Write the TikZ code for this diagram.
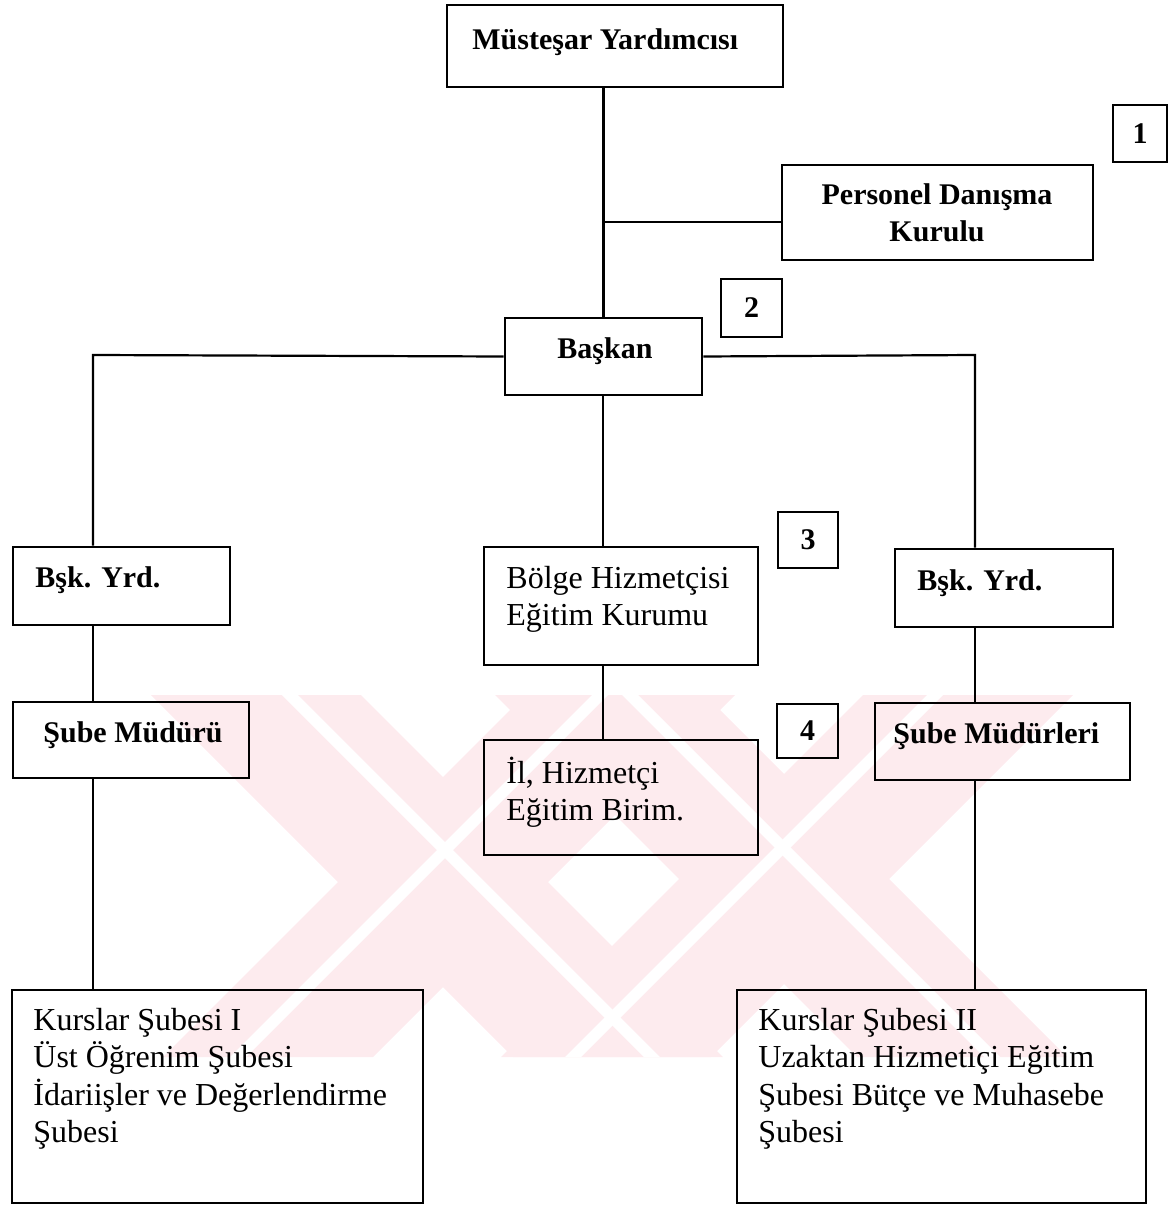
\documentclass[tikz,border=0pt]{standalone}
\usepackage{fontspec}
\setmainfont{Liberation Serif}
\usetikzlibrary{fit}
\definecolor{wm}{RGB}{253,235,238}
\tikzset{
  box/.style={draw, line width=1.4pt, inner sep=0pt},
  conn/.style={line width=1.1pt},
  bl/.style={font=\fontsize{15}{18.75}\selectfont\bfseries, inner sep=0pt, align=left},
  rl/.style={font=\fontsize{16}{18.75}\selectfont, inner sep=0pt, align=left},
}
\newcommand{\wmband}[2]{%
  \fill[wm] ({#1-105},695) -- ({#1+105},695) -- ({#1+105+#2*362},1057) -- ({#1-105+#2*362},1057) -- cycle;}
\newcommand{\wmgap}[2]{%
  \fill[white] ({#1-8},695) -- ({#1+8},695) -- ({#1+8+#2*362},1057) -- ({#1-8+#2*362},1057) -- cycle;}
\begin{document}
\begin{tikzpicture}[x=0.5pt,y=-0.5pt]
\useasboundingbox (0,0) rectangle (1170,1208);
% watermark
\begin{scope}
  \clip (0,695) rectangle (1170,1057);
  \wmband{256}{1}\wmband{630}{-1}\wmband{600}{1}\wmband{968}{-1}
  \wmgap{290}{1}\wmgap{600}{-1}\wmgap{630}{1}\wmgap{935}{-1}
\end{scope}
% boxes
\node[box, fit={(447,5) (783,87)}] (top) {};
\node[box, fit={(782,165) (1093,260)}] (pdk) {};
\node[box, fit={(1113,105) (1167,162)}] (n1) {};
\node[box, fit={(505,318) (702,395)}] (bas) {};
\node[box, fit={(721,279) (782,337)}] (n2) {};
\node[box, fit={(13,547) (230,625)}] (lb) {};
\node[box, fit={(484,547) (758,665)}] (bol) {};
\node[box, fit={(778,512) (838,568)}] (n3) {};
\node[box, fit={(895,549) (1113,627)}] (rb) {};
\node[box, fit={(13,702) (249,778)}] (sm) {};
\node[box, fit={(484,740) (758,855)}] (il) {};
\node[box, fit={(777,704) (838,758)}] (n4) {};
\node[box, fit={(875,703) (1130,780)}] (smr) {};
\node[box, fit={(12,990) (423,1203)}] (k1) {};
\node[box, fit={(737,990) (1146,1203)}] (k2) {};
% texts
\node[bl, anchor=base west] (tTop) at (472,50) {Müsteşar Yardımcısı};
\node[bl, align=center] (tPdk) at (937,213) {Personel Danışma\\Kurulu};
\node[bl, anchor=base] (tBas) at (605,358) {Başkan};
\node[bl, anchor=base west] (tLb) at (35,587) {Bşk. Yrd.};
\node[bl, anchor=base west] (tRb) at (917,590) {Bşk. Yrd.};
\node[bl, anchor=base west] (tSm) at (43,742) {Şube Müdürü};
\node[bl, anchor=base west] (tSmr) at (893,743) {Şube Müdürleri};
\node[rl, anchor=base west] (tBol) at (506,625.5) {Bölge Hizmetçisi\\Eğitim Kurumu};
\node[rl, anchor=base west] (tIl) at (506,820.5) {İl, Hizmetçi\\Eğitim Birim.};
\node[rl, anchor=base west] (tK1) at (33,1142.5) {Kurslar Şubesi I\\Üst Öğrenim Şubesi\\İdariişler ve Değerlendirme\\Şubesi};
\node[rl, anchor=base west] (tK2) at (758,1142.5) {Kurslar Şubesi II\\Uzaktan Hizmetiçi Eğitim\\Şubesi Bütçe ve Muhasebe\\Şubesi};
\node[bl] (t1) at (n1) {1};
\node[bl] (t2) at (n2) {2};
\node[bl] (t3) at (n3) {3};
\node[bl] (t4) at (n4) {4};
% connectors
\coordinate (jP) at (603,222);
\coordinate (jL) at (93,355);
\coordinate (jR) at (975,355);
\coordinate (jM) at (603,355);
\draw[conn] (bas.north) -- (bas.north |- top.south);
\draw[conn] (jP) -- (jP -| pdk.west);
\draw[conn] (bas.west) -- (jL) -- (jL |- lb.north);
\draw[conn] (bas.east) -- (jR) -- (jR |- rb.north);
\draw[conn] (jM |- bas.south) -- (jM |- bol.north);
\draw[conn] (jM |- bol.south) -- (jM |- il.north);
\draw[conn] (jL |- lb.south) -- (jL |- sm.north);
\draw[conn] (jL |- sm.south) -- (jL |- k1.north);
\draw[conn] (jR |- rb.south) -- (jR |- smr.north);
\draw[conn] (jR |- smr.south) -- (jR |- k2.north);
\end{tikzpicture}
\end{document}
